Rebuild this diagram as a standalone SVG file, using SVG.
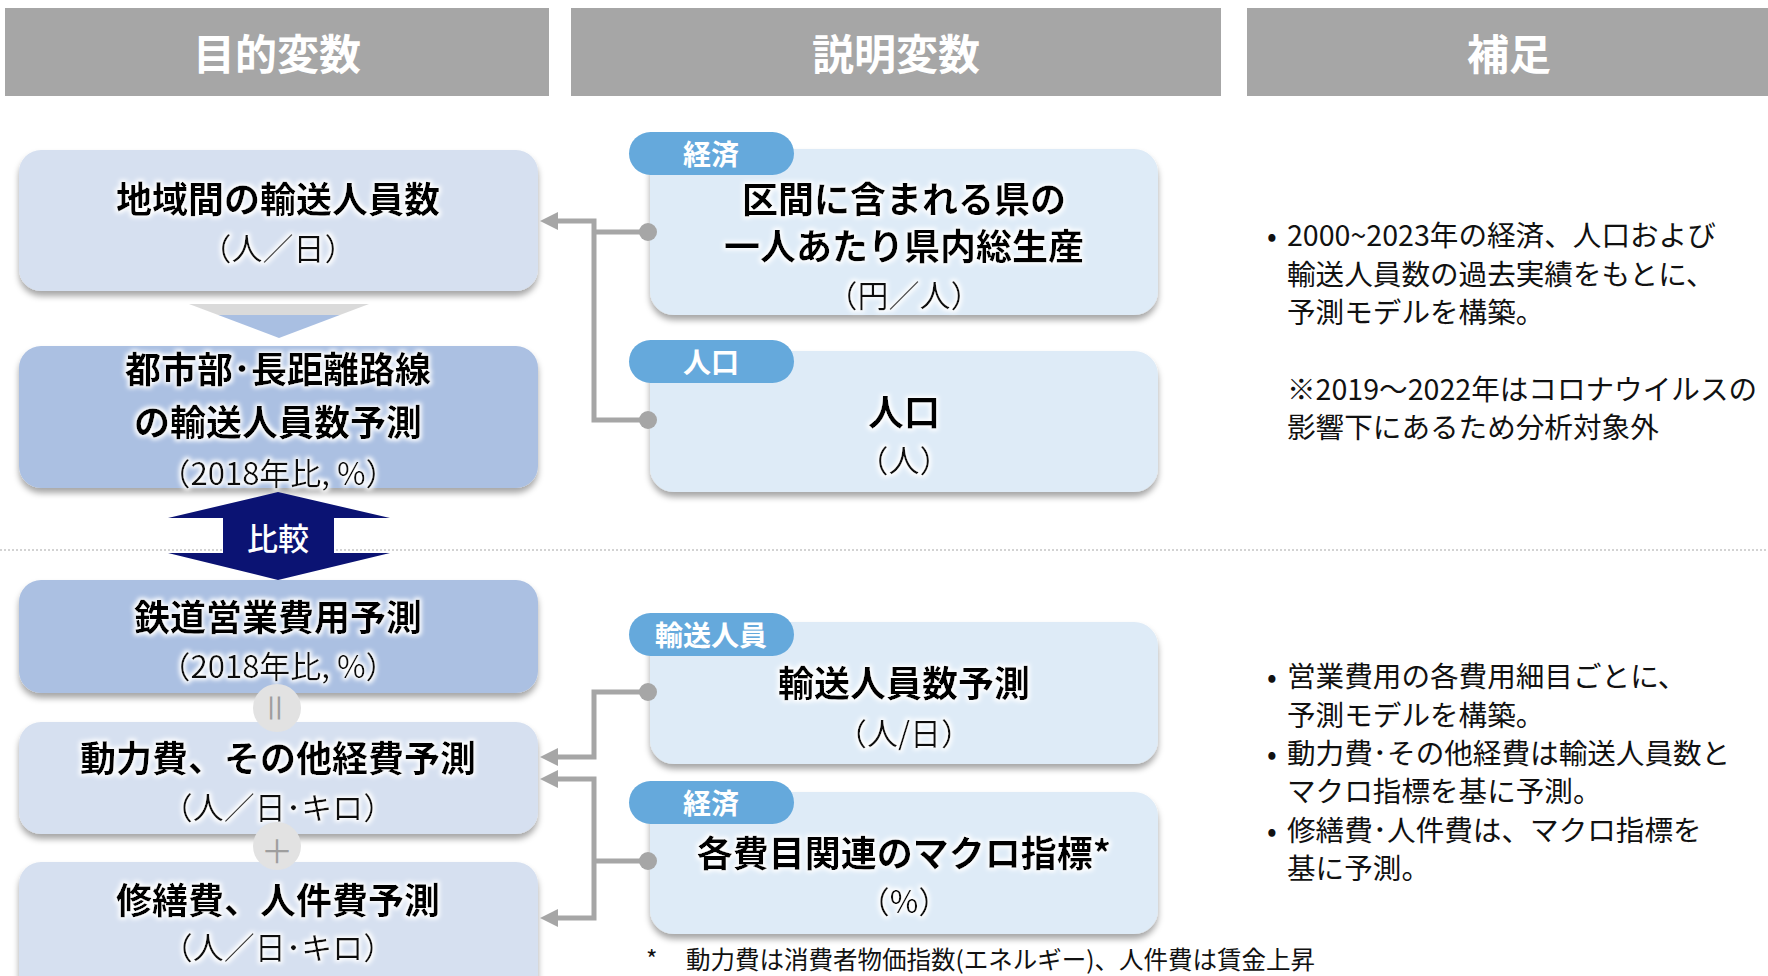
<svg xmlns="http://www.w3.org/2000/svg" width="1768" height="976" viewBox="0 0 1768 976">
<style>
  .hdr{fill:#a6a6a6}
  .hdrt{font-family:"Noto Sans CJK JP","Noto Sans",sans-serif;font-size:42px;font-weight:700;fill:#fff;text-anchor:middle;dominant-baseline:central}
  .boxL{fill:#d6e0f0}
  .boxM{fill:#abc0e2}
  .boxR{fill:#deebf7}
  .tag{fill:#65a9dc}
  .tagt{font-family:"Noto Sans CJK JP","Noto Sans",sans-serif;font-size:28px;font-weight:700;fill:#fff;text-anchor:middle;dominant-baseline:central}
  .ttl{font-family:"Noto Sans CJK JP","Noto Sans",sans-serif;font-size:36px;font-weight:700;fill:#000;text-anchor:middle;dominant-baseline:central}
  .sub{font-family:"Noto Sans CJK JP","Noto Sans",sans-serif;font-size:31px;font-weight:400;fill:#111;text-anchor:middle;dominant-baseline:central}
  .note{font-family:"Noto Sans CJK JP","Noto Sans",sans-serif;font-size:28.6px;font-weight:400;fill:#111;dominant-baseline:central}
  .foot{font-family:"Noto Sans CJK JP","Noto Sans",sans-serif;font-size:24.5px;font-weight:400;fill:#111;dominant-baseline:central}
  .con{fill:none;stroke:#a6a6a6;stroke-width:5}
  .dot{fill:#a6a6a6}
  .op{fill:#e2e2e2}
  .opt{font-family:"Noto Sans CJK JP","Noto Sans",sans-serif;font-size:32px;font-weight:400;fill:#9e9e9e;text-anchor:middle;dominant-baseline:central}
</style>
<defs>
  <filter id="sh" x="-5%" y="-10%" width="110%" height="135%">
    <feDropShadow dx="0" dy="5" stdDeviation="3" flood-color="#000" flood-opacity="0.35"/>
  </filter>
  <filter id="glow" x="-10%" y="-40%" width="120%" height="180%">
    <feMorphology in="SourceAlpha" operator="dilate" radius="2" result="d"/>
    <feGaussianBlur in="d" stdDeviation="2" result="b"/>
    <feFlood flood-color="#ffffff"/>
    <feComposite in2="b" operator="in" result="g"/>
    <feMerge><feMergeNode in="g"/><feMergeNode in="SourceGraphic"/></feMerge>
  </filter>
  <linearGradient id="chev" x1="0" y1="0" x2="0" y2="1">
    <stop offset="0" stop-color="#dadada"/>
    <stop offset="0.32" stop-color="#dadada"/>
    <stop offset="0.32" stop-color="#a9bfe2"/>
    <stop offset="1" stop-color="#a9bfe2"/>
  </linearGradient>
  <marker id="ah" markerUnits="userSpaceOnUse" markerWidth="18" markerHeight="18" viewBox="0 0 18 18" refX="10" refY="9" orient="auto">
    <path d="M0,0 L18,9 L0,18 z" fill="#a6a6a6"/>
  </marker>
</defs>

<rect width="1768" height="976" fill="#fff"/>

<!-- headers -->
<g id="header-objective">
  <rect class="hdr" x="5" y="8" width="544" height="88"/>
  <text class="hdrt" x="277" y="51">目的変数</text>
</g>
<g id="header-explanatory">
  <rect class="hdr" x="571" y="8" width="650" height="88"/>
  <text class="hdrt" x="896" y="51">説明変数</text>
</g>
<g id="header-notes">
  <rect class="hdr" x="1247" y="8" width="521" height="88"/>
  <text class="hdrt" x="1509" y="51">補足</text>
</g>

<!-- separator -->
<line x1="0" y1="550" x2="1768" y2="550" stroke="#a8a8a8" stroke-width="1.2" stroke-dasharray="2 2"/>

<!-- chevron -->
<g id="chevron">
  <polygon points="189,304 369,304 279,338" fill="url(#chev)"/>
</g>

<!-- left column -->
<g id="node-interregional">
  <rect class="boxL" x="19" y="150" width="519" height="141" rx="22" filter="url(#sh)"/>
  <g filter="url(#glow)">
    <text class="ttl" x="278" y="197">地域間の輸送人員数</text>
    <text class="sub" x="278" y="246">（人／日）</text>
  </g>
</g>
<g id="node-forecast-passengers">
  <rect class="boxM" x="19" y="346" width="519" height="142" rx="22" filter="url(#sh)"/>
  <g filter="url(#glow)">
    <text class="ttl" x="278" y="367">都市部･長距離路線<tspan x="278" dy="52.5">の輸送人員数予測</tspan></text>
    <text class="sub" x="278" y="471">（2018年比, %）</text>
  </g>
</g>
<g id="compare-arrow">
  <polygon points="278,492 390,518 334,518 334,553 390,553 278,580 168,553 223,553 223,518 168,518" fill="#0b1373"/>
  <text x="278" y="536" font-family="Noto Sans CJK JP, Noto Sans, sans-serif" font-size="31" font-weight="500" fill="#fff" text-anchor="middle" dominant-baseline="central">比較</text>
</g>
<g id="node-opex">
  <rect class="boxM" x="19" y="580" width="519" height="113" rx="22" filter="url(#sh)"/>
  <g filter="url(#glow)">
    <text class="ttl" x="278" y="615">鉄道営業費用予測</text>
    <text class="sub" x="278" y="664">（2018年比, %）</text>
  </g>
</g>
<g id="node-power">
  <rect class="boxL" x="19" y="722" width="519" height="112" rx="22" filter="url(#sh)"/>
  <g filter="url(#glow)">
    <text class="ttl" x="278" y="756">動力費、その他経費予測</text>
    <text class="sub" x="278" y="805">（人／日･キロ）</text>
  </g>
</g>
<g id="node-repair">
  <rect class="boxL" x="19" y="862" width="519" height="140" rx="22" filter="url(#sh)"/>
  <g filter="url(#glow)">
    <text class="ttl" x="278" y="898">修繕費、人件費予測</text>
    <text class="sub" x="278" y="945">（人／日･キロ）</text>
  </g>
</g>
<g id="op-equal">
  <circle class="op" cx="277" cy="708" r="24"/>
  <text class="opt" x="277" y="708" transform="rotate(90 277 708)">＝</text>
</g>
<g id="op-plus">
  <circle class="op" cx="277" cy="846" r="24"/>
  <text class="opt" x="277" y="849" font-size="29">＋</text>
</g>

<!-- middle column -->
<g id="node-gdp">
  <rect class="boxR" x="650" y="149" width="508" height="166" rx="24" filter="url(#sh)"/>
  <rect class="tag" x="629" y="132" width="165" height="43" rx="21.5"/>
  <text class="tagt" x="711" y="153">経済</text>
  <g filter="url(#glow)">
    <text class="ttl" x="904" y="197" font-size="32">区間に含まれる県の<tspan x="904" dy="46.8">一人あたり県内総生産</tspan></text>
    <text class="sub" x="904" y="293">（円／人）</text>
  </g>
</g>
<g id="node-population">
  <rect class="boxR" x="650" y="351" width="508" height="141" rx="24" filter="url(#sh)"/>
  <rect class="tag" x="629" y="340" width="165" height="43" rx="21.5"/>
  <text class="tagt" x="711" y="361">人口</text>
  <g filter="url(#glow)">
    <text class="ttl" x="904" y="410">人口</text>
    <text class="sub" x="904" y="458">（人）</text>
  </g>
</g>
<g id="node-passenger-forecast">
  <rect class="boxR" x="650" y="622" width="508" height="142" rx="24" filter="url(#sh)"/>
  <rect class="tag" x="629" y="613" width="165" height="43" rx="21.5"/>
  <text class="tagt" x="711" y="634">輸送人員</text>
  <g filter="url(#glow)">
    <text class="ttl" x="904" y="681">輸送人員数予測</text>
    <text class="sub" x="904" y="731">（人/日）</text>
  </g>
</g>
<g id="node-macro">
  <rect class="boxR" x="650" y="792" width="508" height="142" rx="24" filter="url(#sh)"/>
  <rect class="tag" x="629" y="781" width="165" height="43" rx="21.5"/>
  <text class="tagt" x="711" y="802">経済</text>
  <g filter="url(#glow)">
    <text class="ttl" x="904" y="851">各費目関連のマクロ指標*</text>
    <text class="sub" x="904" y="899">（%）</text>
  </g>
</g>

<!-- connectors -->
<g id="connectors">
  <path class="con" d="M648,420 H594 V221 H548" marker-end="url(#ah)"/>
  <path class="con" d="M648,232 H594"/>
  <circle class="dot" cx="648" cy="232" r="9"/>
  <circle class="dot" cx="648" cy="420" r="9"/>
  <path class="con" d="M648,692 H594 V757 H548" marker-end="url(#ah)"/>
  <circle class="dot" cx="648" cy="692" r="9"/>
  <path class="con" d="M648,861 H594"/>
  <path class="con" d="M594,861 V779 H548" marker-end="url(#ah)"/>
  <path class="con" d="M594,861 V918 H548" marker-end="url(#ah)"/>
  <circle class="dot" cx="648" cy="861" r="9"/>
</g>

<!-- notes -->
<g id="notes-top">
  <text class="note" x="1267" y="233">•</text>
  <text class="note" x="1287" y="233">2000~2023年の経済、人口および</text>
  <text class="note" x="1287" y="272">輸送人員数の過去実績をもとに、</text>
  <text class="note" x="1287" y="310">予測モデルを構築。</text>
  <text class="note" x="1287" y="387">※2019～2022年はコロナウイルスの</text>
  <text class="note" x="1287" y="425">影響下にあるため分析対象外</text>
</g>
<g id="notes-bottom">
  <text class="note" x="1267" y="674">•</text>
  <text class="note" x="1287" y="674">営業費用の各費用細目ごとに、</text>
  <text class="note" x="1287" y="713">予測モデルを構築。</text>
  <text class="note" x="1267" y="751">•</text>
  <text class="note" x="1287" y="751">動力費･その他経費は輸送人員数と</text>
  <text class="note" x="1287" y="789">マクロ指標を基に予測。</text>
  <text class="note" x="1267" y="828">•</text>
  <text class="note" x="1287" y="828">修繕費･人件費は、マクロ指標を</text>
  <text class="note" x="1287" y="866">基に予測。</text>
</g>

<!-- footnote -->
<g id="footnote">
  <text class="foot" x="646" y="958">*</text>
  <text class="foot" x="686" y="958">動力費は消費者物価指数(エネルギー)、人件費は賃金上昇</text>
</g>
</svg>
